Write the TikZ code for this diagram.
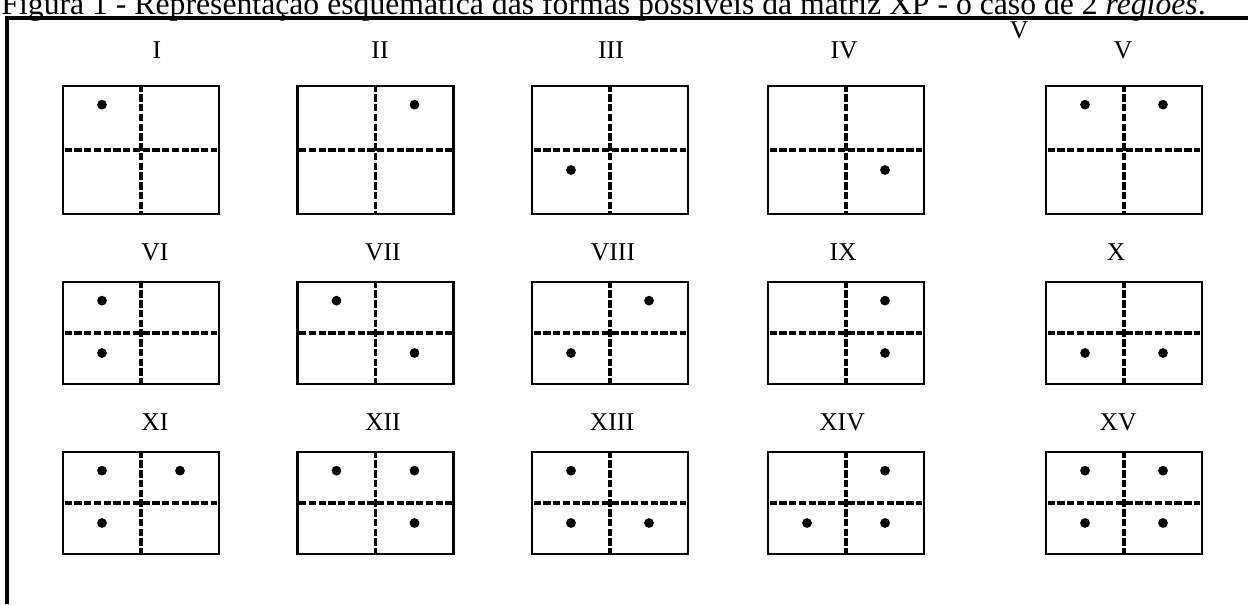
\documentclass[tikz,border=0pt]{standalone}
\usepackage{fontspec}
\setmainfont{Liberation Serif}
\usetikzlibrary{calc}

\tikzset{
  frameline/.style={line width=1.6pt},
  cellbox/.style={draw, rectangle, line width=1.1pt, inner sep=0pt,
    minimum width=156*0.41pt},
  divline/.style={line width=1.3pt, dash pattern=on 3pt off 1pt},
  celldot/.style={circle, fill=black, inner sep=0pt, minimum size=4pt},
  boxlabel/.style={inner sep=0pt, font=\fontsize{10.5}{12}\selectfont}
}

\begin{document}
\begin{tikzpicture}[x=0.41pt, y=-0.41pt]
  \useasboundingbox (0,0) rectangle (1248,604);
  % caption, cut off by the top of the page
  \node[anchor=base west, inner sep=0pt, font=\fontsize{13}{15}\selectfont] (caption) at (1,14)
    {Figura 1 - Representação esquemática das formas possíveis da matriz XP - o caso de 2 \textit{regiões}.};
  % frame
  \draw[frameline] (7,604) -- (7,18) -- (1248,18);
  % stray letter under the frame
  \begin{scope}
    \clip (980,21) rectangle (1060,60);
    \node[boxlabel] (strayv) at (1019,30) {V};
  \end{scope}
  % labels
  \foreach \lbl/\lx/\ly in {I/157/50, II/380/50, III/611/50, IV/844/50, V/1123/50,
      VI/155/252, VII/383/252, VIII/613/252, IX/843/252, X/1116/252,
      XI/155/422, XII/383/422, XIII/612/422, XIV/842/422, XV/1118/422}
    \node[boxlabel] (l\lbl) at (\lx,\ly) {\lbl};
  % boxes
  \foreach \n/\cx/\cy/\h in {1/141/150/128, 2/375.5/150/128, 3/610/150/128, 4/846/150/128, 5/1124/150/128,
      6/141/333/102, 7/375.5/333/102, 8/610/333/102, 9/846/333/102, 10/1124/333/102,
      11/141/503/102, 12/375.5/503/102, 13/610/503/102, 14/846/503/102, 15/1124/503/102}
  {
    \node[cellbox, minimum height=\h*0.41pt] (b\n) at (\cx,\cy) {};
    \draw[divline] (b\n.north) -- (b\n.south);
    \draw[divline] ([xshift=1.2pt]b\n.west) -- ([xshift=-1.2pt]b\n.east);
  }
  % dots: box / left(-1) or right(1) / upper (north) or lower (center) half
  \foreach \n/\sx/\a [count=\k] in {1/-1/north, 2/1/north, 3/-1/center, 4/1/center,
      5/-1/north, 5/1/north,
      6/-1/north, 6/-1/center, 7/-1/north, 7/1/center, 8/1/north, 8/-1/center,
      9/1/north, 9/1/center, 10/-1/center, 10/1/center,
      11/-1/north, 11/1/north, 11/-1/center, 12/-1/north, 12/1/north, 12/1/center,
      13/-1/north, 13/-1/center, 13/1/center, 14/1/north, 14/-1/center, 14/1/center,
      15/-1/north, 15/1/north, 15/-1/center, 15/1/center}
    \node[celldot] (dot\k) at ($(b\n.\a)+(\sx*39,20)$) {};
\end{tikzpicture}
\end{document}
